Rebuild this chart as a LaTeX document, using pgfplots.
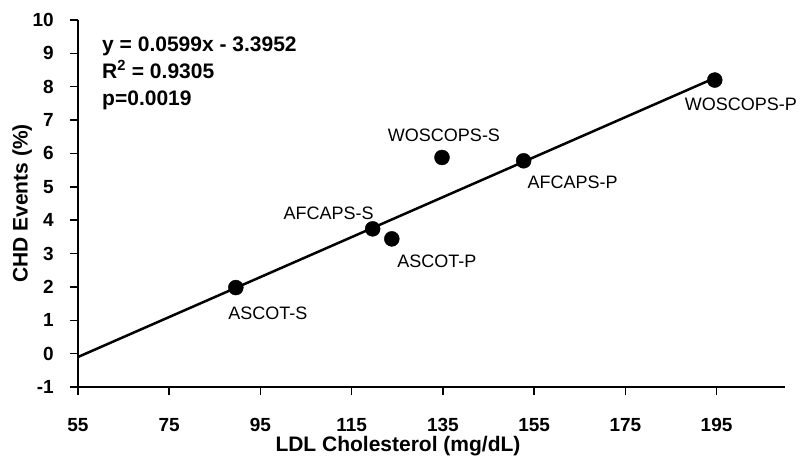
\documentclass[border=0pt]{standalone}
\usepackage{fontspec}
\setmainfont{Liberation Sans}
\usepackage{pgfplots}
\pgfplotsset{compat=1.18}
\usepackage{pgfplotstable}

% LDL vs CHD events, one row per trial arm; dx/dy place the label
\pgfplotstableread{
x     y     dx   dy   label
89.6  1.98  32  -26   ASCOT-S
119.6 3.74 -44   16   AFCAPS-S
123.8 3.44  45  -22   ASCOT-P
134.8 5.88   2   22   WOSCOPS-S
152.7 5.78  49  -22   AFCAPS-P
194.6 8.20  26  -24   WOSCOPS-P
}\trials

\begin{document}
\begin{tikzpicture}
\useasboundingbox (-78pt,-76pt) rectangle (723pt,387pt);
\begin{axis}[
  at={(0,0)}, anchor=south west,
  scale only axis, width=707pt, height=367pt,
  xmin=55, xmax=210, ymin=-1, ymax=10,
  axis x line*=bottom, axis y line*=left,
  axis line style={-, line width=1.5pt, black},
  xtick={55,75,...,195}, xticklabels={55,75,95,115,135,155,175,195},
  ytick={-1,0,...,10}, yticklabels={-1,0,1,2,3,4,5,6,7,8,9,10},
  tick align=outside, major tick length=8pt,
  tick style={line width=1.5pt, black},
  ticklabel style={font=\bfseries\fontsize{19}{19}\selectfont, inner sep=0pt},
  xticklabel style={anchor=north}, xticklabel shift=23pt,
  yticklabel style={anchor=east}, yticklabel shift=16pt,
  xlabel={LDL Cholesterol (mg/dL)},
  ylabel={CHD Events (\%)},
  label style={font=\bfseries\fontsize{21}{21}\selectfont},
  xlabel style={at={(axis description cs:0.4526,-0.177)}, anchor=base},
  ylabel style={at={(axis description cs:-0.079,0.5)}, anchor=center},
  clip=false
]
\addplot[black, line width=2.5pt] coordinates {(55,-0.1007) (195,8.2853)};
\addplot[only marks, mark=*, mark size=7.5pt, black,
  nodes near coords, point meta=explicit symbolic,
  visualization depends on={\thisrow{dx} \as \labdx},
  visualization depends on={\thisrow{dy} \as \labdy},
  every node near coord/.append style={anchor=center, inner sep=0pt,
    xshift=\labdx pt, yshift=\labdy pt, font=\fontsize{18}{18}\selectfont}]
  table[x=x, y=y, meta=label] {\trials};
\node[anchor=north west, inner sep=0pt, align=left,
  font=\bfseries\fontsize{21}{27}\selectfont]
  at (axis description cs:0.034,0.955)
  {y = 0.0599x - 3.3952\\R\textsuperscript{2} = 0.9305\\p=0.0019};
\end{axis}
\end{tikzpicture}
\end{document}
